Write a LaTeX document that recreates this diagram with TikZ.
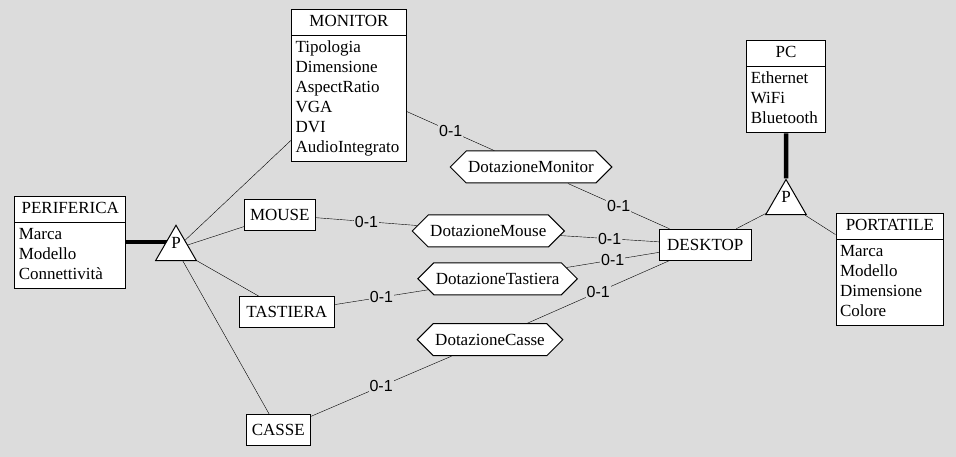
\documentclass[tikz,border=0pt]{standalone}
\usepackage{fontspec}
\setmainfont{Liberation Serif}
\newfontfamily\entfont{Liberation Serif}
\newfontfamily\cardfont{Liberation Sans}
\usetikzlibrary{shapes.geometric, shapes.multipart, shapes.symbols}
\pgfdeclarelayer{sotto}
\pgfsetlayers{sotto,main}
\definecolor{sfondo}{RGB}{220,220,220}

\begin{document}
\begin{tikzpicture}[x=1pt, y=-1pt, line width=1pt]
% Definizione degli stili
\tikzset{
testo/.style={font=\entfont\fontsize{17}{20}\selectfont},
box/.style={testo, draw, fill=white, rectangle, inner xsep=4pt, inner ysep=5.5pt},
entita/.style={box, minimum height=31},
attributi/.style={box, rectangle split, rectangle split parts=2, rectangle split part align={center,left}, align=left, inner ysep=2.5pt, anchor=north west},
relazione/.style={testo, draw, fill=white, signal, signal to=west and east, inner xsep=2pt, minimum height=32},
gerarchia/.style={testo, draw, fill=white, regular polygon, regular polygon sides=3, minimum size=47, inner sep=0pt, text height=6pt, text depth=6pt},
card/.style={font=\cardfont\fontsize{16}{18}\selectfont, fill=sfondo, inner sep=1pt},
isa/.style={line width=4.5pt}
}
\useasboundingbox (0,0) rectangle (956,457);
% Entita con attributi
\node[attributi, minimum width=111] (periferica) at (14.3,195.7) {\strut PERIFERICA \nodepart{two}\strut Marca\\ Modello\\ Connettività\strut};
\node[attributi, minimum width=115] (monitor) at (291,9.3) {\strut MONITOR \nodepart{two}\strut Tipologia\\ Dimensione\\ AspectRatio\\ VGA\\ DVI\\ AudioIntegrato\strut};
\node[attributi, minimum width=78.4] (pc) at (746.3,40.3) {\strut PC \nodepart{two}\strut Ethernet\\ WiFi\\ Bluetooth\strut};
\node[attributi, minimum width=107.8] (portatile) at (835.5,212.7) {\strut PORTATILE \nodepart{two}\strut Marca\\ Modello\\ Dimensione\\ Colore\strut};
% Entita semplici
\node[entita, minimum width=71] (mouse) at (279.8,214.9) {MOUSE};
\node[entita, minimum width=95] (tastiera) at (286.8,312.2) {TASTIERA};
\node[entita, minimum width=64] (casse) at (278.3,430.3) {CASSE};
\node[entita, minimum width=92] (desktop) at (705.3,244.8) {DESKTOP};
% Relazioni
\node[relazione] (dotMonitor) at (531,167) {DotazioneMonitor};
\node[relazione] (dotMouse) at (488.3,231) {DotazioneMouse};
\node[relazione] (dotTastiera) at (497.6,278.8) {DotazioneTastiera};
\node[relazione] (dotCasse) at (490,339.7) {DotazioneCasse};
% Generalizzazioni
\node[gerarchia] (isaPeriferica) at (176,248.8) {P};
\node[gerarchia] (isaPc) at (786,203) {P};
% Sfondo e linee spesse sotto i nodi
\begin{pgfonlayer}{sotto}
\fill[sfondo] (0,0) rectangle (956,457);
\draw[isa] (periferica.east) -- (periferica.east -| isaPeriferica.center);
\draw[isa] (pc) -- (isaPc);
\end{pgfonlayer}
% Collegamenti
\draw (isaPeriferica) -- (monitor);
\draw (isaPeriferica) -- (mouse);
\draw (isaPeriferica) -- (tastiera);
\draw (isaPeriferica) -- (casse);
\draw (isaPc) -- (desktop);
\draw (isaPc) -- (portatile);
\draw (monitor) -- node[card] {0-1} (dotMonitor);
\draw (dotMonitor) -- node[card] {0-1} (desktop);
\draw (mouse) -- node[card] {0-1} (dotMouse);
\draw (dotMouse) -- node[card] {0-1} (desktop);
\draw (tastiera) -- node[card] {0-1} (dotTastiera);
\draw (dotTastiera) -- node[card] {0-1} (desktop);
\draw (casse) -- node[card] {0-1} (dotCasse);
\draw (dotCasse) -- node[card] {0-1} (desktop);
\end{tikzpicture}
\end{document}
